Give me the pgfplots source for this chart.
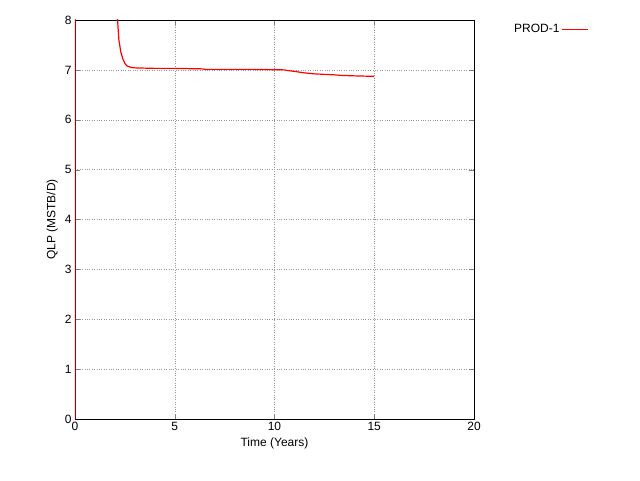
\documentclass[border=0pt]{standalone}
\usepackage{pgfplots}
\pgfplotsset{compat=1.18}
\usepackage{fontspec}
\setmainfont{Liberation Sans}
\begin{document}
\begin{tikzpicture}[x=1pt,y=1pt]
\useasboundingbox (-75,-61) rectangle (565,419);
\begin{axis}[anchor=south west,scale only axis,width=399pt,height=399pt,
xmin=0,xmax=20,ymin=0,ymax=8,xtick={0,5,...,20},ytick={0,1,...,8},
grid=major,grid style={dotted,gray!80},tick align=inside,
major tick length=5pt,
/pgf/number format/assume math mode=true,
tick label style={font=\fontsize{12}{14}\selectfont},
label style={font=\fontsize{12}{14}\selectfont},
xlabel={Time (Years)},ylabel={QLP (MSTB/D)},
legend plot pos=right,
legend style={draw=none,fill=none,at={(1.095,0.995)},anchor=north west,font=\fontsize{12}{14}\selectfont,inner sep=0pt},
legend image post style={xscale=1.5},
legend cell align=left,
restrict y to domain=0:8.2,clip=true]
\addplot[red,line width=1.2pt] coordinates {
(0,0) (0,8.2) (2.1,8.2) (2.15,7.9) (2.2,7.6) (2.3,7.35) (2.4,7.22) (2.5,7.13) (2.6,7.08) (2.8,7.05) (3,7.04) (4,7.03) (5,7.03) (6.4,7.02) (6.5,7.01) (8,7.01) (9,7.01) (10.5,7.0) (10.6,6.99) (11,6.97) (11.5,6.94) (12,6.92) (13,6.9) (13.3,6.89) (14,6.88) (15,6.87)};
\addlegendentry{PROD-1}
\end{axis}
\end{tikzpicture}
\end{document}
